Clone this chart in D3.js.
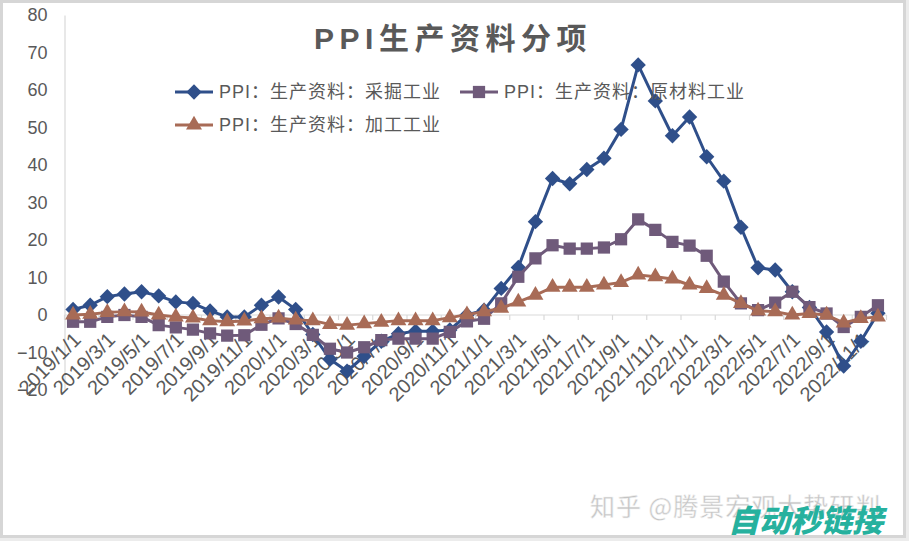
<!DOCTYPE html>
<html><head><meta charset="utf-8">
<script src="https://cdn.jsdelivr.net/npm/d3@7"></script>
<style>
html,body{margin:0;padding:0;background:#ececec;}
svg{display:block;}
</style></head>
<body>
<svg id="chart" width="909" height="541"></svg>
<script>
const categories = [
 "2019/1/1","2019/2/1","2019/3/1","2019/4/1","2019/5/1","2019/6/1","2019/7/1","2019/8/1","2019/9/1","2019/10/1","2019/11/1","2019/12/1",
 "2020/1/1","2020/2/1","2020/3/1","2020/4/1","2020/5/1","2020/6/1","2020/7/1","2020/8/1","2020/9/1","2020/10/1","2020/11/1","2020/12/1",
 "2021/1/1","2021/2/1","2021/3/1","2021/4/1","2021/5/1","2021/6/1","2021/7/1","2021/8/1","2021/9/1","2021/10/1","2021/11/1","2021/12/1",
 "2022/1/1","2022/2/1","2022/3/1","2022/4/1","2022/5/1","2022/6/1","2022/7/1","2022/8/1","2022/9/1","2022/10/1","2022/11/1","2022/12/1"
];
const mining = [1.5,2.6,4.9,5.6,6.2,5.1,3.5,3.1,1.1,-0.5,-0.5,2.6,4.8,1.5,-5.2,-11.8,-15.0,-11.0,-7.0,-5.0,-4.3,-4.3,-4.0,0.0,
 1.3,7.1,12.7,24.9,36.4,35.0,38.8,41.8,49.5,66.7,57.1,47.8,52.8,42.2,35.7,23.4,12.6,12.0,6.2,2.0,-4.5,-13.6,-7.0,0.5];
const rawMaterial = [-1.8,-1.8,-0.5,0,-0.5,-2.7,-3.3,-3.9,-4.9,-5.5,-5.4,-2.6,-0.9,-2.4,-5.3,-9.0,-10.0,-8.6,-6.7,-6.3,-6.3,-6.3,-4.5,-1.7,
 -1.0,3.1,10.2,15.1,18.6,17.7,17.7,18.0,20.2,25.5,22.7,19.5,18.5,15.8,8.9,3.1,1.3,3.3,6.2,2.1,0.4,-3.2,-0.5,2.6];
const processing = [0,0.2,0.7,0.9,0.8,0,-0.5,-0.8,-1.5,-1.8,-1.6,-1.0,-0.8,-1.3,-1.5,-2.5,-2.7,-2.3,-1.9,-1.5,-1.5,-1.5,-0.7,0.1,
 0.9,1.8,3.5,5.3,7.4,7.4,7.4,8.0,8.7,10.7,10.2,9.6,8.0,7.1,5.3,3.1,1.1,0.9,0,0.4,0,-2.1,-0.9,-0.5];
const seriesNames = ["PPI：生产资料：采掘工业","PPI：生产资料：原材料工业","PPI：生产资料：加工工业"];
const yTicks = [-20,-10,0,10,20,30,40,50,60,70,80];
const title = "PPI生产资料分项";

const colors = ["#2f4f8a","#6f5a7a","#a86b56"];
const shapes = [d3.symbolDiamond2, d3.symbolSquare, d3.symbolTriangle];
const shapeSizes = [150, 150, 110];

const svg = d3.select("#chart");
const FONT = "'Liberation Sans', Arial, 'Noto Sans CJK SC', sans-serif";

svg.append("rect").attr("x",1.5).attr("y",1.5).attr("width",903).attr("height",535)
  .attr("fill","#fff").attr("stroke","#d6d6d6").attr("stroke-width",3);

const x = d3.scaleBand().domain(categories).range([64.5, 886.5]).padding(0);
const y = d3.scaleLinear().domain([-20,80]).range([390,15]);
const cx = d => x(d) + x.bandwidth()/2;

// y axis
const yAxis = svg.append("g").attr("transform","translate(64.5,0)")
  .call(d3.axisLeft(y).tickValues(yTicks).tickSize(0).tickPadding(17).tickFormat(d3.format("d")));
yAxis.select(".domain").attr("stroke","#d9d9d9").attr("stroke-width",1.2);
yAxis.selectAll("text").attr("font-family",FONT).attr("font-size",18).attr("fill","#595959");

// x axis at zero
const xAxisG = svg.append("g").attr("transform",`translate(0,${y(0)})`);
xAxisG.append("line").attr("x1",64.5).attr("x2",886.5).attr("y1",0).attr("y2",0)
  .attr("stroke","#d9d9d9").attr("stroke-width",1.2);
const tickIdx = d3.range(0, categories.length+1, 2);
xAxisG.selectAll("line.tk").data(tickIdx).join("line").attr("class","tk")
  .attr("x1",i => 64.5 + i*x.bandwidth()).attr("x2",i => 64.5 + i*x.bandwidth())
  .attr("y1",0).attr("y2",5).attr("stroke","#d9d9d9").attr("stroke-width",1.2);
const labelCats = categories.filter((d,i) => i%2===0);
xAxisG.selectAll("text").data(labelCats).join("text")
  .attr("transform", d => `translate(${cx(d)+9},${26}) rotate(-45)`)
  .attr("text-anchor","end")
  .attr("font-family",FONT).attr("font-size",20).attr("fill","#595959")
  .text(d => d);

// series
const allSeries = [mining, rawMaterial, processing];
const line = d3.line().x((d,i) => cx(categories[i])).y(d => y(d));
allSeries.forEach((vals, s) => {
  const g = svg.append("g");
  g.append("path").datum(vals).attr("d", line).attr("fill","none")
    .attr("stroke", colors[s]).attr("stroke-width", 3).attr("stroke-linejoin","round");
  g.selectAll("path.m").data(vals).join("path").attr("class","m")
    .attr("d", d3.symbol().type(shapes[s]).size(shapeSizes[s]))
    .attr("transform",(d,i) => `translate(${cx(categories[i])},${y(d)})`)
    .attr("fill", colors[s]);
});

// title
svg.append("text").attr("x",453).attr("y",49).attr("text-anchor","middle")
  .attr("font-family",FONT).attr("font-size",30).attr("font-weight","bold")
  .attr("letter-spacing","5.5px").attr("fill","#595959").text(title);

// legend
const legendPos = [[175,92],[460,92],[175,125]];
legendPos.forEach(([lx,ly], s) => {
  const g = svg.append("g").attr("transform",`translate(${lx},${ly})`);
  g.append("line").attr("x1",0).attr("x2",38).attr("y1",0).attr("y2",0)
    .attr("stroke",colors[s]).attr("stroke-width",3);
  g.append("path").attr("d", d3.symbol().type(shapes[s]).size(shapeSizes[s])())
    .attr("transform","translate(19,0)").attr("fill",colors[s]);
  g.append("text").attr("x",44).attr("y",0).attr("dy","0.36em")
    .attr("font-family",FONT).attr("font-size",18).attr("letter-spacing","1px").attr("fill","#595959")
    .text(seriesNames[s]);
});

// watermarks
svg.append("text").attr("x",590).attr("y",516).attr("font-family","'Noto Sans CJK SC', sans-serif")
  .attr("font-size",25).attr("letter-spacing","1px").attr("fill","#c4c4c4").attr("stroke","#f4f4f4").attr("stroke-width",0.5)
  .text("知乎 @腾景宏观大势研判");
svg.append("text").attr("x",728).attr("y",532).attr("font-family","'Noto Sans CJK SC', sans-serif")
  .attr("font-size",31).attr("font-weight","900").attr("font-style","italic")
  .attr("fill","#26b19e").text("自动秒链接");
</script>
</body></html>
